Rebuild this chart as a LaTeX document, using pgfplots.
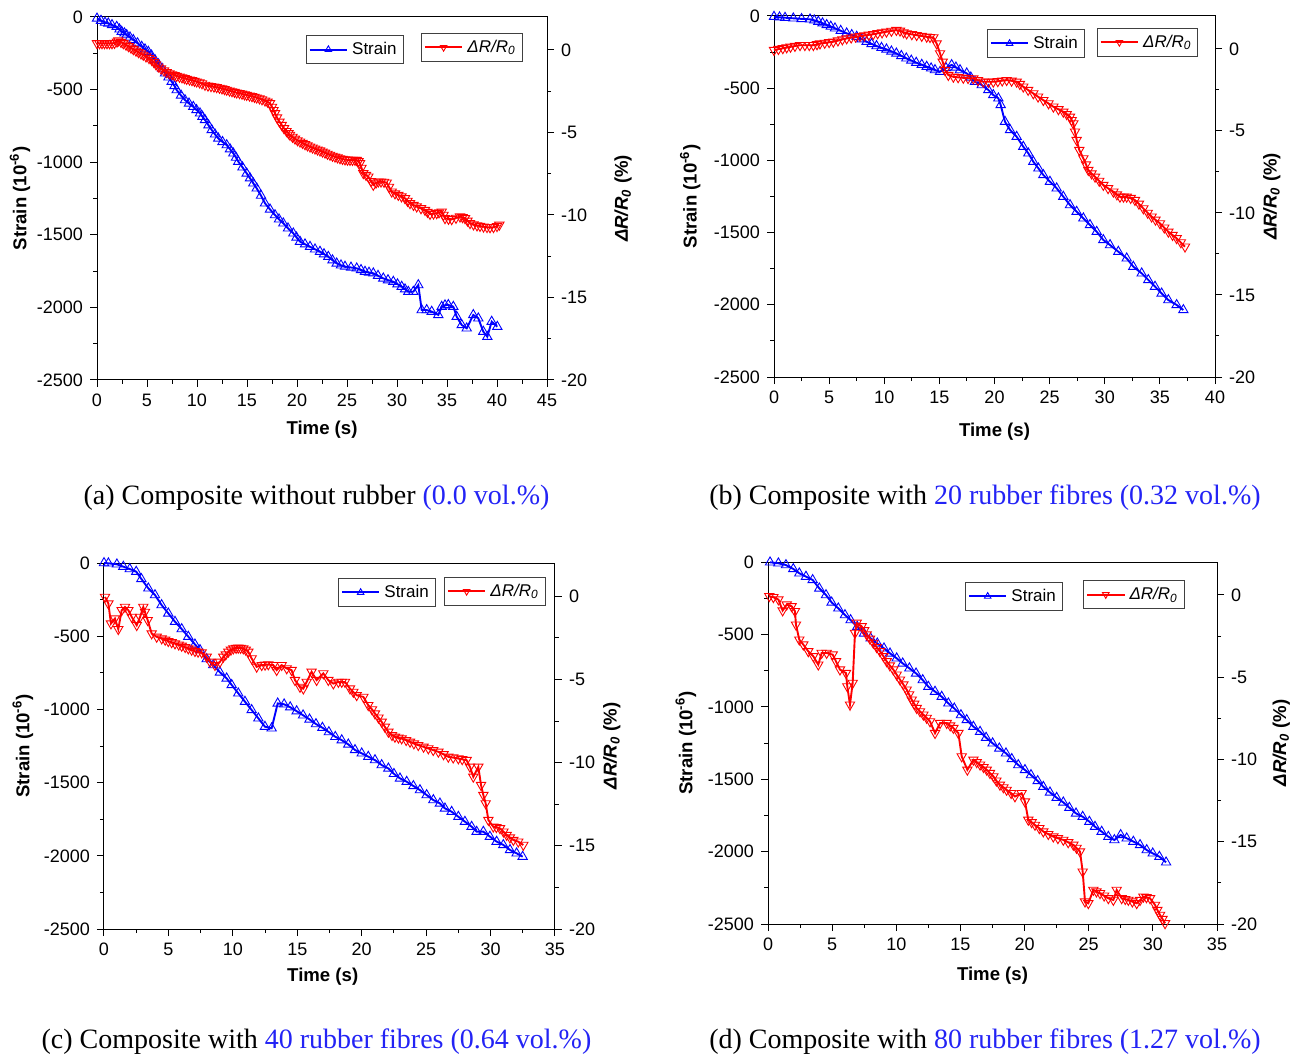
\documentclass[border=0pt]{standalone}
\usepackage{fontspec}
\setmainfont{Liberation Sans}
\newfontfamily\capfont{Liberation Serif}
\usepackage{pgfplots}
\pgfplotsset{compat=1.18}
\definecolor{capblue}{RGB}{35,35,245}

\pgfplotsset{
  panel/.style={
    scale only axis, clip=false,
    tick align=outside,
    major tick length=3.5pt, minor tick length=2pt,
    tick style={black, line width=0.5pt},
    axis line style={line width=0.5pt},
    /pgf/number format/assume math mode=true,
    /pgf/number format/set thousands separator={},
    tick label style={font=\fontsize{9}{10}\selectfont},
    label style={font=\fontsize{9.3}{11}\selectfont\bfseries},
    legend style={font=\fontsize{8.5}{10}\selectfont, draw=black!75,
      inner sep=1.2pt, anchor=north west, legend cell align=left},
    legend image code/.code={\draw[line width=1pt, mark repeat=2, mark phase=2, mark size=1.9pt]
      plot coordinates {(0cm,0cm) (0.33cm,0cm) (0.66cm,0cm)};},
  },
  leftax/.style={panel, tick pos=left,
    ymin=-2500, ymax=0, ytick distance=500, minor y tick num=1,
    xtick distance=5, minor x tick num=1,
    xlabel={Time (s)}, ylabel={Strain (10\textsuperscript{-6})}},
  rightax/.style={panel, axis y line*=right, axis x line=none,
    ymin=-20, ymax=2, ytick={-20,-15,-10,-5,0}, minor y tick num=1,
    ylabel={\textit{ΔR/R\textsubscript{0}} (\%)}},
  sline/.style={blue, line width=0.95pt, mark=triangle, mark size=2.7pt,
    mark options={solid, line width=0.45pt, fill=blue!15}},
  rline/.style={red, line width=0.95pt, mark=triangle, mark size=2.7pt,
    mark options={solid, line width=0.45pt, fill=red!15, rotate=180}},
}

\begin{document}
\begin{tikzpicture}
\useasboundingbox (0,0) rectangle (650.5pt,528.5pt);

% ---------------- (a) ----------------
\begin{axis}[leftax, at={(48.5pt,338.5pt)}, width=225pt, height=181.5pt, xmin=0, xmax=45,
  ylabel style={at={(axis description cs:-0.171,0.5)}, anchor=center},
  xlabel style={at={(axis description cs:0.5,0)}, anchor=center, yshift=-25pt},
  legend style={at={(axis description cs:0.464,0.950)}}]
\addplot[sline] coordinates {
(0.0,-10) (0.4,-25) (0.8,-38) (1.13,-44) (1.5,-55) (1.97,-67) (2.25,-85) (2.47,-101)
(2.75,-112) (2.97,-124) (3.3,-140) (3.63,-158) (4.05,-180) (4.47,-204) (4.8,-222)
(5.13,-239) (5.45,-265) (5.8,-296) (6.15,-325) (6.5,-355) (6.8,-388) (7.15,-415)
(7.47,-445) (7.75,-475) (7.97,-503) (8.4,-540) (8.8,-572) (9.2,-595) (9.63,-618)
(9.95,-640) (10.3,-663) (10.55,-686) (10.8,-709) (11.15,-745) (11.47,-778) (11.8,-808)
(12.13,-836) (12.55,-860) (12.97,-882) (13.3,-910) (13.63,-939) (13.9,-968) (14.13,-996)
(14.55,-1035) (14.97,-1077) (15.3,-1110) (15.63,-1145) (15.97,-1180) (16.4,-1230)
(16.8,-1283) (17.3,-1325) (17.8,-1364) (18.2,-1393) (18.63,-1421) (19.1,-1455)
(19.63,-1490) (19.95,-1518) (20.3,-1547) (20.8,-1565) (21.3,-1582) (21.8,-1600)
(22.3,-1616) (22.7,-1633) (23.13,-1651) (23.55,-1675) (23.97,-1697) (24.4,-1710)
(24.8,-1719) (25.4,-1725) (25.97,-1731) (26.4,-1742) (26.8,-1754) (27.2,-1760)
(27.63,-1765) (28.1,-1782) (28.63,-1800) (29.1,-1812) (29.63,-1823) (30.05,-1840)
(30.47,-1857) (30.8,-1875) (31.13,-1892) (31.63,-1892) (32.13,-1846) (32.47,-2018)
(32.97,-2018) (33.47,-2029) (34.13,-2052) (34.47,-1995) (34.8,-1985) (35.13,-1983)
(35.63,-1995) (35.97,-2064) (36.47,-2121) (36.97,-2144) (37.63,-2052) (38.13,-2075)
(38.63,-2167) (39.03,-2202) (39.47,-2098) (40.03,-2133)
};
\addlegendentry{Strain}
\end{axis}
\begin{axis}[rightax, at={(48.5pt,338.5pt)}, width=225pt, height=181.5pt, xmin=0, xmax=45,
  ylabel style={at={(axis description cs:1.169,0.5)}, anchor=center},
  legend style={at={(axis description cs:0.72,0.956)}}]
\addplot[rline] coordinates {
(0.0,0.40) (0.25,0.40) (0.5,0.40) (0.75,0.40) (1.0,0.40) (1.25,0.40) (1.5,0.40)
(1.75,0.42) (2.0,0.50) (2.13,0.57) (2.4,0.48) (2.63,0.40) (2.9,0.31) (3.15,0.22)
(3.4,0.13) (3.63,0.04) (3.9,-0.05) (4.15,-0.14) (4.4,-0.22) (4.63,-0.30) (4.9,-0.40)
(5.2,-0.50) (5.47,-0.61) (5.7,-0.75) (5.9,-0.88) (6.13,-1.01) (6.4,-1.13) (6.7,-1.25)
(6.97,-1.35) (7.25,-1.42) (7.5,-1.48) (7.75,-1.53) (7.97,-1.58) (8.25,-1.63) (8.5,-1.67)
(8.75,-1.72) (8.97,-1.76) (9.25,-1.80) (9.5,-1.84) (9.75,-1.88) (9.97,-1.92) (10.25,-1.97)
(10.5,-2.03) (10.8,-2.12) (11.1,-2.17) (11.4,-2.20) (11.7,-2.23) (11.97,-2.26)
(12.25,-2.30) (12.5,-2.34) (12.75,-2.38) (12.97,-2.42) (13.25,-2.47) (13.5,-2.51)
(13.75,-2.55) (13.97,-2.59) (14.25,-2.62) (14.5,-2.66) (14.75,-2.70) (14.97,-2.73)
(15.25,-2.77) (15.5,-2.81) (15.75,-2.85) (15.97,-2.89) (16.25,-2.94) (16.5,-3.00)
(16.8,-3.07) (17.05,-3.14) (17.3,-3.23) (17.5,-3.45) (17.65,-3.65) (17.8,-3.84)
(18.0,-4.10) (18.25,-4.35) (18.47,-4.55) (18.7,-4.75) (18.95,-4.92) (19.15,-5.05)
(19.3,-5.15) (19.55,-5.27) (19.8,-5.38) (20.05,-5.48) (20.3,-5.56) (20.55,-5.64)
(20.8,-5.72) (21.05,-5.79) (21.3,-5.86) (21.55,-5.92) (21.8,-5.98) (22.05,-6.04)
(22.3,-6.10) (22.55,-6.17) (22.8,-6.23) (23.05,-6.30) (23.3,-6.36) (23.55,-6.42)
(23.8,-6.47) (24.05,-6.52) (24.3,-6.57) (24.55,-6.61) (24.8,-6.64) (25.05,-6.66)
(25.3,-6.67) (25.55,-6.67) (25.8,-6.67) (25.97,-6.67) (26.15,-6.75) (26.3,-6.87)
(26.45,-7.15) (26.63,-7.47) (26.9,-7.58) (27.13,-7.68) (27.4,-7.95) (27.63,-8.18)
(27.9,-8.05) (28.13,-7.98) (28.4,-7.98) (28.7,-8.00) (28.97,-8.04) (29.2,-8.30)
(29.47,-8.59) (29.8,-8.70) (30.13,-8.79) (30.45,-8.88) (30.8,-8.99) (31.05,-9.15)
(31.3,-9.29) (31.65,-9.40) (31.97,-9.49) (32.4,-9.60) (32.8,-9.70) (33.05,-9.82)
(33.3,-9.94) (33.65,-9.92) (33.97,-9.90) (34.2,-9.85) (34.47,-9.80) (34.65,-10.0)
(34.8,-10.20) (35.15,-10.24) (35.47,-10.26) (35.9,-10.18) (36.3,-10.10) (36.55,-10.14)
(36.8,-10.20) (37.05,-10.35) (37.3,-10.50) (37.65,-10.58) (38.0,-10.64) (38.3,-10.67)
(38.65,-10.71) (39.0,-10.74) (39.3,-10.75) (39.65,-10.74) (40.0,-10.68) (40.23,-10.60)
};
\addlegendentry{\textit{ΔR/R\textsubscript{0}}}
\end{axis}

% ---------------- (b) ----------------
\begin{axis}[leftax, at={(387pt,340pt)}, width=220.5pt, height=180.5pt, xmin=0, xmax=40,
  ylabel style={at={(axis description cs:-0.190,0.5)}, anchor=center},
  xlabel style={at={(axis description cs:0.5,0)}, anchor=center, yshift=-27.5pt},
  legend style={at={(axis description cs:0.483,0.964)}}]
\addplot[sline] coordinates {
(0.0,-5) (0.5,-9) (1.0,-12) (1.75,-16) (2.5,-20) (3.27,-23) (3.65,-30) (4.02,-39)
(4.4,-50) (4.78,-62) (5.15,-73) (5.53,-85) (6.05,-102) (6.59,-120) (7.05,-131)
(7.5,-143) (7.95,-160) (8.4,-178) (8.85,-193) (9.3,-208) (9.75,-220) (10.2,-231)
(10.65,-245) (11.1,-259) (11.55,-276) (12.0,-293) (12.45,-308) (12.9,-323) (13.4,-337)
(13.85,-351) (14.25,-362) (14.6,-374) (15.06,-386) (15.6,-360) (16.11,-339) (16.5,-356)
(16.87,-374) (17.48,-397) (17.85,-425) (18.23,-455) (18.84,-478) (19.44,-512)
(19.89,-547) (20.35,-570) (20.56,-616) (20.95,-732) (21.41,-789) (22.01,-836)
(22.61,-905) (23.07,-951) (23.52,-1009) (23.98,-1055) (24.43,-1101) (25.03,-1147)
(25.64,-1193) (26.24,-1251) (26.85,-1309) (27.45,-1355) (28.06,-1401) (28.66,-1447)
(29.27,-1494) (29.87,-1551) (30.48,-1586) (31.23,-1632) (31.99,-1678) (32.59,-1736)
(33.35,-1782) (33.95,-1828) (34.56,-1874) (35.16,-1921) (35.77,-1967) (36.52,-2001)
(37.13,-2036)
};
\addlegendentry{Strain}
\end{axis}
\begin{axis}[rightax, at={(387pt,340pt)}, width=220.5pt, height=180.5pt, xmin=0, xmax=40,
  ylabel style={at={(axis description cs:1.129,0.5)}, anchor=center},
  legend style={at={(axis description cs:0.732,0.967)}}]
\addplot[rline] coordinates {
(0.0,-0.08) (0.4,-0.02) (0.8,0.03) (1.15,0.08) (1.5,0.12) (1.9,0.17) (2.36,0.22)
(2.8,0.22) (3.2,0.22) (3.57,0.22) (3.9,0.27) (4.17,0.32) (4.6,0.36) (5.0,0.40)
(5.38,0.43) (5.8,0.50) (6.2,0.57) (6.59,0.63) (7.0,0.68) (7.4,0.73) (7.8,0.77)
(8.2,0.81) (8.6,0.85) (9.0,0.89) (9.4,0.94) (9.8,0.99) (10.2,1.04) (10.65,1.09)
(11.1,1.14) (11.43,1.10) (11.75,1.00) (12.03,0.93) (12.5,0.88) (12.94,0.83) (13.4,0.78)
(13.85,0.73) (14.15,0.71) (14.45,0.69) (14.75,0.32) (15.06,-0.28) (15.3,-0.79)
(15.51,-1.30) (15.81,-1.60) (16.27,-1.71) (16.7,-1.74) (17.17,-1.77) (17.6,-1.79)
(18.08,-1.81) (18.5,-1.92) (18.99,-2.01) (19.45,-2.01) (19.89,-2.01) (20.3,-1.98)
(20.7,-1.94) (21.1,-1.91) (21.55,-1.95) (22.01,-2.01) (22.3,-2.15) (22.61,-2.31)
(23.05,-2.51) (23.52,-2.72) (23.95,-2.92) (24.43,-3.13) (24.9,-3.33) (25.34,-3.53)
(25.8,-3.69) (26.24,-3.84) (26.55,-3.99) (26.85,-4.14) (27.0,-4.35) (27.15,-4.55)
(27.3,-5.05) (27.45,-5.56) (27.69,-6.17) (28.06,-6.68) (28.3,-7.05) (28.51,-7.39)
(28.8,-7.60) (29.12,-7.80) (29.5,-8.05) (29.87,-8.30) (30.3,-8.50) (30.78,-8.71)
(31.1,-8.88) (31.38,-9.02) (31.7,-9.02) (31.99,-9.02) (32.35,-9.10) (32.74,-9.22)
(33.1,-9.45) (33.5,-9.73) (33.9,-10.00) (34.25,-10.23) (34.6,-10.42) (35.01,-10.64)
(35.4,-10.90) (35.77,-11.15) (36.15,-11.35) (36.52,-11.55) (36.9,-11.80) (37.28,-12.06)
};
\addlegendentry{\textit{ΔR/R\textsubscript{0}}}
\end{axis}

% ---------------- (c) ----------------
\begin{axis}[leftax, at={(52pt,64pt)}, width=225.5pt, height=183pt, xmin=0, xmax=35,
  ylabel style={at={(axis description cs:-0.180,0.5)}, anchor=center},
  xlabel style={at={(axis description cs:0.485,0)}, anchor=center, yshift=-24pt},
  legend style={at={(axis description cs:0.519,0.959)}}]
\addplot[sline] coordinates {
(0.0,0) (0.34,-2) (1.0,-9) (1.5,-25) (2.0,-41) (2.5,-59) (2.9,-109) (3.44,-173)
(3.96,-219) (4.47,-287) (4.99,-344) (5.51,-401) (6.03,-451) (6.54,-503) (7.06,-556)
(7.45,-594) (7.97,-656) (8.48,-697) (9.0,-747) (9.52,-788) (9.91,-833) (10.42,-890)
(10.94,-947) (11.46,-1004) (11.98,-1061) (12.49,-1118) (13.01,-1129) (13.48,-959)
(13.98,-965) (14.45,-985) (14.95,-1012) (15.45,-1040) (15.95,-1068) (16.45,-1100)
(16.95,-1125) (17.45,-1155) (17.95,-1187) (18.45,-1210) (18.96,-1239) (19.48,-1277)
(20.0,-1300) (20.51,-1323) (21.03,-1346) (21.55,-1380) (22.07,-1403) (22.5,-1440)
(22.97,-1471) (23.49,-1494) (24.01,-1523) (24.52,-1551) (25.04,-1585) (25.56,-1619)
(26.07,-1642) (26.46,-1676) (26.98,-1699) (27.5,-1733) (28.01,-1767) (28.53,-1801)
(28.92,-1835) (29.44,-1835) (29.95,-1869) (30.47,-1903) (30.99,-1926) (31.51,-1960)
(32.02,-1983) (32.49,-2006)
};
\addlegendentry{Strain}
\end{axis}
\begin{axis}[rightax, at={(52pt,64pt)}, width=225.5pt, height=183pt, xmin=0, xmax=35,
  ylabel style={at={(axis description cs:1.126,0.5)}, anchor=center},
  legend style={at={(axis description cs:0.754,0.962)}}]
\addplot[rline] coordinates {
(0.08,-0.04) (0.34,-0.44) (0.54,-1.64) (0.85,-1.34) (1.11,-1.98) (1.37,-0.84)
(1.63,-0.64) (1.89,-0.84) (2.15,-1.24) (2.54,-1.74) (2.8,-1.24) (3.05,-0.64)
(3.18,-0.94) (3.39,-1.44) (3.7,-2.24) (4.09,-2.44) (4.48,-2.54) (4.75,-2.62)
(4.99,-2.70) (5.25,-2.77) (5.51,-2.84) (5.8,-2.91) (6.03,-2.98) (6.3,-3.06) (6.54,-3.14)
(6.8,-3.22) (7.06,-3.30) (7.3,-3.34) (7.58,-3.38) (7.97,-3.64) (8.23,-3.94) (8.61,-4.14)
(9.0,-3.94) (9.26,-3.64) (9.45,-3.50) (9.65,-3.34) (9.85,-3.22) (10.04,-3.14)
(10.25,-3.11) (10.42,-3.10) (10.6,-3.11) (10.81,-3.14) (11.0,-3.22) (11.2,-3.34)
(11.46,-3.74) (11.85,-4.24) (12.24,-4.14) (12.5,-4.12) (12.75,-4.10) (13.14,-4.14)
(13.4,-4.44) (13.79,-4.14) (14.18,-4.34) (14.56,-4.44) (14.82,-5.04) (15.21,-5.45)
(15.47,-5.55) (15.73,-5.15) (16.11,-4.54) (16.5,-5.04) (17.02,-4.64) (17.41,-5.04)
(17.8,-5.25) (18.19,-5.15) (18.45,-5.15) (18.7,-5.15) (19.09,-5.55) (19.35,-5.75)
(19.61,-5.95) (20.13,-6.05) (20.51,-6.55) (20.8,-6.80) (21.03,-7.05) (21.3,-7.30)
(21.55,-7.55) (21.8,-7.85) (22.07,-8.15) (22.35,-8.35) (22.58,-8.45) (22.85,-8.50)
(23.1,-8.55) (23.45,-8.65) (23.75,-8.75) (24.05,-8.85) (24.39,-8.95) (24.8,-9.05)
(25.17,-9.15) (25.55,-9.25) (25.95,-9.35) (26.35,-9.50) (26.72,-9.65) (27.1,-9.70)
(27.5,-9.75) (27.8,-9.80) (28.14,-9.85) (28.4,-10.25) (28.66,-10.85) (29.05,-10.25)
(29.26,-11.35) (29.44,-11.95) (29.62,-12.45) (29.83,-13.45) (30.21,-13.85)
(30.45,-13.88) (30.73,-13.95) (31.0,-14.15) (31.25,-14.35) (31.5,-14.50) (31.77,-14.65)
(32.15,-14.75) (32.54,-14.95)
};
\addlegendentry{\textit{ΔR/R\textsubscript{0}}}
\end{axis}

% ---------------- (d) ----------------
\begin{axis}[leftax, at={(384pt,66.5pt)}, width=224.5pt, height=181pt, xmin=0, xmax=35,
  ylabel style={at={(axis description cs:-0.183,0.5)}, anchor=center},
  xlabel style={at={(axis description cs:0.5,0)}, anchor=center, yshift=-26pt},
  legend style={at={(axis description cs:0.439,0.945)}}]
\addplot[sline] coordinates {
(0.16,-2) (0.81,-9) (1.4,-21) (1.97,-48) (2.44,-78) (2.96,-101) (3.48,-124) (4.0,-182)
(4.52,-228) (4.96,-279) (5.48,-320) (6.0,-366) (6.44,-401) (6.96,-447) (7.48,-493)
(8.0,-527) (8.52,-562) (9.04,-596) (9.51,-631) (10.03,-665) (10.5,-700) (11.02,-734)
(11.54,-769) (12.06,-815) (12.5,-861) (13.02,-895) (13.54,-930) (14.06,-976)
(14.52,-1011) (15.04,-1057) (15.49,-1091) (16.01,-1137) (16.53,-1172) (17.0,-1213)
(17.51,-1252) (18.03,-1287) (18.55,-1321) (19.0,-1360) (19.51,-1402) (20.03,-1436)
(20.5,-1471) (21.02,-1512) (21.46,-1552) (21.98,-1591) (22.5,-1628) (23.02,-1660)
(23.49,-1697) (24.01,-1736) (24.53,-1759) (25.05,-1793) (25.49,-1828) (26.01,-1862)
(26.53,-1897) (27.0,-1920) (27.49,-1885) (27.96,-1908) (28.48,-1931) (29.0,-1954)
(29.52,-1989) (29.99,-2012) (30.51,-2035) (31.03,-2074)
};
\addlegendentry{Strain}
\end{axis}
\begin{axis}[rightax, at={(384pt,66.5pt)}, width=224.5pt, height=181pt, xmin=0, xmax=35,
  ylabel style={at={(axis description cs:1.143,0.5)}, anchor=center},
  legend style={at={(axis description cs:0.702,0.950)}}]
\addplot[rline] coordinates {
(0.1,-0.08) (0.42,-0.14) (0.81,-0.28) (1.14,-0.95) (1.46,-0.59) (1.84,-0.69)
(2.1,-0.99) (2.18,-1.81) (2.44,-2.72) (2.75,-3.02) (3.14,-3.43) (3.53,-3.73)
(3.92,-4.24) (4.18,-3.53) (4.57,-3.53) (5.04,-3.63) (5.3,-4.04) (5.61,-4.54)
(6.08,-4.75) (6.18,-5.56) (6.39,-6.67) (6.6,-5.35) (6.78,-2.31) (6.91,-1.70)
(7.3,-1.91) (7.5,-2.15) (7.69,-2.41) (7.95,-2.67) (8.21,-2.92) (8.47,-3.18)
(8.73,-3.43) (9.0,-3.73) (9.25,-4.04) (9.5,-4.29) (9.77,-4.54) (10.03,-4.85)
(10.29,-5.15) (10.55,-5.45) (10.81,-5.76) (11.0,-6.05) (11.2,-6.37) (11.4,-6.62)
(11.59,-6.88) (11.85,-7.08) (12.11,-7.28) (12.37,-7.48) (12.63,-7.69) (13.02,-8.40)
(13.41,-7.79) (13.93,-7.79) (14.2,-7.94) (14.45,-8.09) (14.84,-8.40) (15.1,-9.82)
(15.54,-10.63) (16.01,-10.02) (16.27,-10.17) (16.53,-10.32) (16.8,-10.47)
(17.05,-10.63) (17.3,-10.83) (17.57,-11.03) (17.8,-11.29) (18.08,-11.54)
(18.35,-11.70) (18.6,-11.85) (18.95,-12.05) (19.25,-12.25) (19.77,-12.05)
(20.03,-12.56) (20.29,-13.67) (20.55,-13.82) (20.81,-13.98) (21.15,-14.18)
(21.46,-14.38) (21.85,-14.54) (22.24,-14.69) (22.6,-14.79) (23.02,-14.89)
(23.4,-15.04) (23.8,-15.19) (24.05,-15.38) (24.32,-15.60) (24.53,-16.82)
(24.71,-18.64) (24.97,-18.74) (25.36,-17.93) (25.6,-18.03) (25.88,-18.13)
(26.2,-18.28) (26.53,-18.44) (26.92,-18.54) (27.18,-17.93) (27.57,-18.44)
(27.85,-18.49) (28.09,-18.54) (28.4,-18.64) (28.74,-18.74) (29.0,-18.55)
(29.26,-18.34) (29.5,-18.38) (29.78,-18.44) (30.17,-18.84) (30.35,-19.15)
(30.56,-19.45) (30.75,-19.70) (30.95,-19.96)
};
\addlegendentry{\textit{ΔR/R\textsubscript{0}}}
\end{axis}

% captions
\begin{scope}[every node/.style={font=\capfont\fontsize{14}{16}\selectfont}]
\node at (158.25pt,279.5pt) {(a) Composite without rubber \textcolor{capblue}{(0.0 vol.\%)}};
\node at (492.5pt,279.5pt) {(b) Composite with \textcolor{capblue}{20 rubber fibres (0.32 vol.\%)}};
\node at (158.25pt,7.5pt) {(c) Composite with \textcolor{capblue}{40 rubber fibres (0.64 vol.\%)}};
\node at (492.5pt,7.5pt) {(d) Composite with \textcolor{capblue}{80 rubber fibres (1.27 vol.\%)}};
\end{scope}
\end{tikzpicture}
\end{document}
